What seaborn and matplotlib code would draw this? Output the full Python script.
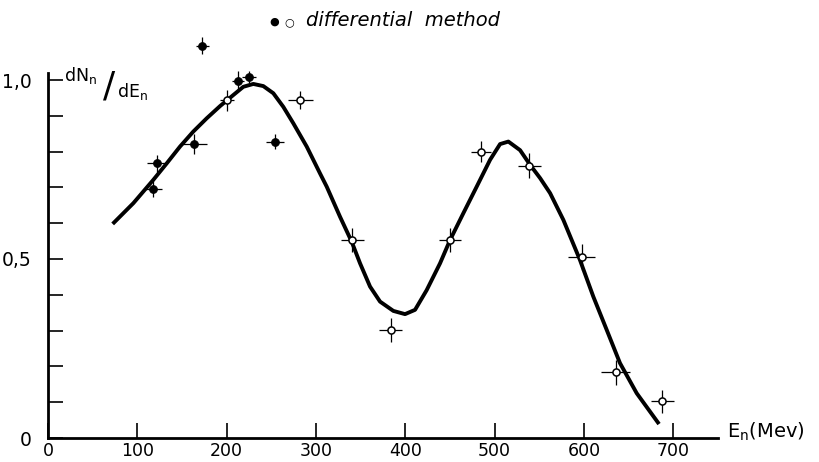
import matplotlib
matplotlib.use("Agg")
import matplotlib.pyplot as plt
import seaborn as sns
import pandas as pd
from matplotlib.ticker import FixedLocator, FixedFormatter

# ---- data ----
filled_E = [118, 121.7, 163.5, 172.8, 213, 224.7, 254.6]
filled_y = [0.695, 0.767, 0.820, 1.096, 0.998, 1.009, 0.828]
filled_xerr = [10, 11, 14, 7, 7, 8, 10]
filled_yerr = [0.022, 0.023, 0.028, 0.024, 0.027, 0.017, 0.022]

open_E = [200.4, 282.6, 340.8, 383.7, 450.2, 484.9, 539, 597.6, 635.7, 688]
open_y = [0.943, 0.944, 0.553, 0.302, 0.553, 0.800, 0.761, 0.505, 0.184, 0.103]
open_xerr = [8, 14, 13, 13, 12, 11, 13, 15, 16, 13]
open_yerr = [0.030, 0.025, 0.034, 0.033, 0.034, 0.029, 0.035, 0.037, 0.035, 0.032]

curve_E = [72.4, 95.6, 117.9, 132.9, 147.8, 162.7, 177.7, 192.6, 207.5, 218.7,
           229.9, 241.1, 252.3, 263.5, 274.7, 289.7, 304.6, 312.1, 327.0, 340.1,
           349.4, 360.6, 371.8, 386.7, 399.8, 411.0, 424.0, 439.0, 450.2, 465.1,
           480.0, 495.0, 506.2, 515.5, 528.6, 539.8, 551.0, 562.2, 577.1, 595.7,
           610.6, 625.6, 640.5, 659.2, 684.2]
curve_y = [0.598, 0.656, 0.721, 0.767, 0.814, 0.856, 0.893, 0.927, 0.958, 0.981,
           0.989, 0.983, 0.963, 0.925, 0.879, 0.814, 0.739, 0.702, 0.618, 0.548,
           0.488, 0.423, 0.381, 0.355, 0.346, 0.358, 0.413, 0.488, 0.553, 0.628,
           0.702, 0.777, 0.821, 0.828, 0.804, 0.763, 0.726, 0.684, 0.609, 0.497,
           0.395, 0.302, 0.209, 0.125, 0.039]

x_ticks = [0, 100, 200, 300, 400, 500, 600, 700]
x_tick_labels = ["0", "100", "200", "300", "400", "500", "600", "700"]
y_ticks = [0.0, 0.1, 0.2, 0.3, 0.4, 0.5, 0.6, 0.7, 0.8, 0.9, 1.0]
y_tick_labels = ["0", "", "", "", "", "0,5", "", "", "", "", "1,0"]

# ---- plotting ----
sns.set_style("white")
plt.rcParams["font.family"] = ["DejaVu Sans"]
plt.rcParams["mathtext.fontset"] = "dejavusans"
plt.rcParams["text.color"] = "black"
plt.rcParams["xtick.color"] = "black"
plt.rcParams["ytick.color"] = "black"
plt.rcParams["axes.labelcolor"] = "black"

fig = plt.figure(figsize=(8.19, 4.62), dpi=100)
ax = fig.add_axes([48 / 819, 24 / 462, 669.8 / 819, 411.7 / 462])

curve_df = pd.DataFrame({"E": curve_E, "y": curve_y})
sns.lineplot(data=curve_df, x="E", y="y", ax=ax, color="black", linewidth=2.8,
             sort=False, solid_capstyle="butt", solid_joinstyle="round")

ax.errorbar(filled_E, filled_y, xerr=filled_xerr, yerr=filled_yerr, fmt="none",
            ecolor="black", elinewidth=0.9, capsize=0, clip_on=False)
ax.errorbar(open_E, open_y, xerr=open_xerr, yerr=open_yerr, fmt="none",
            ecolor="black", elinewidth=0.9, capsize=0, clip_on=False)

filled_df = pd.DataFrame({"E": filled_E, "y": filled_y})
open_df = pd.DataFrame({"E": open_E, "y": open_y})
sns.scatterplot(data=filled_df, x="E", y="y", ax=ax, color="black", s=30,
                edgecolor="black", linewidth=0.8, zorder=5, clip_on=False)
sns.scatterplot(data=open_df, x="E", y="y", ax=ax, color="white", s=26,
                edgecolor="black", linewidth=1.1, zorder=5, clip_on=False)

ax.set_xlim(0, 750)
ax.set_ylim(0, 1.15)
ax.set_xlabel("")
ax.set_ylabel("")

for s in ["top", "right"]:
    ax.spines[s].set_visible(False)
for s in ["left", "bottom"]:
    ax.spines[s].set_linewidth(2.0)
    ax.spines[s].set_color("black")
ax.spines["left"].set_bounds(0, 1.02)
ax.spines["bottom"].set_bounds(0, 750)

ax.xaxis.set_major_locator(FixedLocator(x_ticks))
ax.xaxis.set_major_formatter(FixedFormatter(x_tick_labels))
ax.yaxis.set_major_locator(FixedLocator(y_ticks))
ax.yaxis.set_major_formatter(FixedFormatter(y_tick_labels))
ax.tick_params(axis="x", direction="in", length=11, width=1.2, pad=3,
               labelsize=12.5, bottom=True, colors="black")
ax.tick_params(axis="y", direction="in", length=11, width=1.2, pad=12,
               labelsize=13.5, left=True, colors="black")

# title
fig.text(274 / 819, 1 - 22 / 462, "●", ha="center", va="center", fontsize=8)
fig.text(289 / 819, 1 - 22 / 462, "○", ha="center", va="center", fontsize=8)
fig.text(306 / 819, 1 - 21 / 462, "differential  method", ha="left",
         va="center", fontsize=14, style="italic")

# y label
fig.text(64 / 819, 1 - 76 / 462, r"$\mathregular{dN_n}$", ha="left",
         va="center", fontsize=12.5)
fig.text(109 / 819, 1 - 87 / 462, "/", ha="center", va="center", fontsize=26)
fig.text(117 / 819, 1 - 92 / 462, r"$\mathregular{dE_n}$", ha="left",
         va="center", fontsize=12.5)

# x label
ax.text(760, 0.018, r"$\mathregular{E_n}$(Mev)", ha="left", va="center",
        fontsize=14, clip_on=False)

fig.savefig("out.png", dpi=100)
